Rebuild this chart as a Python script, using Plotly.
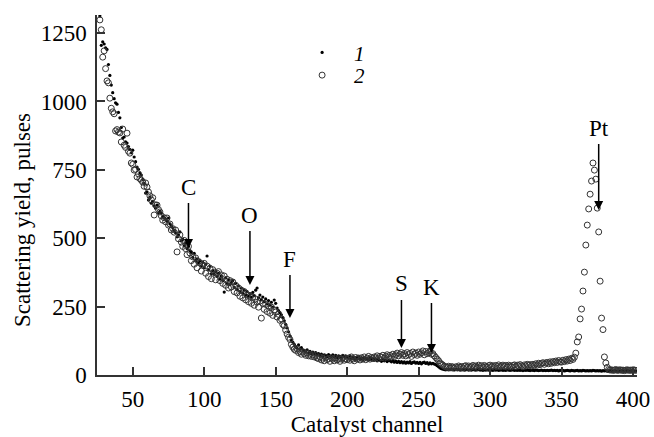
import plotly.graph_objects as go

# ---------------- data ----------------
channel_start = 27  # first catalyst channel of both series

# series 1 (small filled dots)
yield_1 = [
    1312, 1205, 1218,
    1210, 1196, 1190, 1135, 1095, 1060, 1032, 1010, 995, 990,
    960, 940, 905, 866, 870, 852, 848, 835, 825, 812,
    822, 797, 780, 760, 752, 738, 731, 715, 700, 665,
    669, 640, 650, 628, 635, 618, 610, 621, 592, 598,
    592, 580, 576, 570, 562, 574, 552, 545, 538, 528,
    520, 505, 512, 523, 490, 496, 472, 482, 462, 470,
    455, 448, 430, 445, 418, 425, 410, 418, 398, 412,
    392, 405, 435, 385, 398, 370, 382, 368, 378, 360,
    372, 350, 362, 345, 303, 355, 335, 348, 330, 338,
    345, 320, 335, 312, 326, 305, 318, 300, 310, 292,
    305, 288, 298, 285, 302, 290, 310, 318, 282, 292,
    275, 285, 268, 278, 260, 272, 255, 266, 248, 274,
    262, 245, 235, 228, 220, 210, 198, 185, 172, 158,
    142, 128, 120, 112, 104, 98, 110, 95, 100, 92,
    90, 84, 92, 80, 86, 78, 84, 76, 82, 74,
    78, 70, 76, 68, 74, 72, 66, 75, 70, 68,
    74, 66, 72, 64, 70, 68, 62, 72, 66, 70,
    66, 62, 70, 60, 66, 58, 64, 60, 66, 58,
    62, 56, 64, 58, 60, 55, 62, 57, 60, 54,
    58, 52, 57, 54, 50, 56, 52, 55, 49, 53,
    52, 48, 53, 47, 51, 46, 50, 45, 49, 44,
    48, 43, 47, 44, 49, 42, 46, 48, 43, 46,
    42, 46, 41, 45, 47, 42, 45, 40, 44, 41,
    43, 40, 38, 34, 30, 26, 23, 21, 20, 19,
    20, 19, 21, 20, 19, 20, 21, 19, 20, 18,
    19, 20, 18, 19, 20, 18, 19, 18, 20, 19,
    18, 19, 20, 18, 19, 17, 19, 18, 19, 18,
    19, 18, 17, 19, 18, 19, 17, 18, 19, 17,
    18, 17, 19, 18, 17, 18, 19, 17, 18, 17,
    18, 17, 18, 16, 18, 17, 18, 17, 16, 18,
    17, 16, 18, 17, 16, 17, 18, 16, 17, 16,
    17, 16, 17, 18, 16, 17, 16, 17, 15, 17,
    16, 17, 15, 16, 17, 16, 15, 17, 16, 15,
    16, 17, 15, 16, 15, 17, 16, 15, 16, 15,
    16, 15, 17, 16, 15, 16, 15, 16, 14, 16,
    15, 16, 14, 15, 16, 15, 14, 16, 15, 14,
    15, 14, 16, 15, 14, 15, 16, 14, 15, 14,
    15, 14, 15,
]

# series 2 (open circles)
yield_2 = [
    1298, 1262, 1162,
    1185, 1120, 1075, 1068, 1012, 975, 962, 955, 892, 897,
    888, 885, 852, 899, 840, 832, 884, 818, 811, 775,
    770, 749, 752, 724, 735, 718, 712, 705, 690, 702,
    687, 669, 655, 640, 648, 585, 622, 621, 605, 596,
    582, 566, 575, 560, 574, 548, 552, 530, 535, 522,
    530, 450, 498, 512, 486, 470, 492, 462, 440, 470,
    446, 418, 432, 405, 428, 392, 415, 409, 380, 402,
    408, 372, 398, 360, 390, 352, 385, 376, 348, 372,
    378, 345, 366, 335, 362, 328, 350, 318, 345, 322,
    340, 305, 328, 300, 318, 288, 310, 282, 305, 275,
    292, 268, 288, 262, 285, 255, 278, 266, 248, 270,
    208, 262, 240, 258, 232, 252, 226, 248, 218, 238,
    230, 212, 222, 200, 205, 185, 180, 164, 150, 138,
    130, 112, 102, 94, 90, 96, 82, 86, 76, 84,
    78, 72, 80, 70, 76, 68, 74, 66, 72, 62,
    60, 66, 55, 62, 52, 64, 56, 60, 50, 62,
    58, 52, 62, 55, 60, 50, 58, 63, 54, 60,
    56, 62, 54, 66, 58, 52, 64, 58, 62, 55,
    63, 58, 66, 56, 62, 68, 58, 64, 60, 66,
    62, 70, 60, 68, 64, 72, 62, 68, 74, 65,
    72, 66, 76, 68, 74, 80, 70, 76, 82, 72,
    78, 70, 82, 74, 79, 68, 84, 75, 80, 72,
    84, 76, 81, 88, 74, 86, 78, 82, 88, 76,
    78, 70, 64, 58, 52, 44, 40, 36, 32, 30,
    28, 32, 26, 31, 29, 25, 30, 27, 33, 28,
    31, 26, 32, 34, 28, 33, 27, 31, 35, 29,
    33, 28, 36, 30, 34, 29, 35, 31, 28, 34,
    36, 30, 34, 29, 35, 31, 37, 30, 33, 36,
    31, 35, 29, 36, 33, 30, 35, 37, 31, 36,
    33, 38, 34, 30, 37, 33, 39, 35, 38, 33,
    39, 35, 41, 36, 43, 38, 42, 45, 39, 44,
    46, 41, 48, 43, 49, 45, 51, 46, 53, 48,
    47, 54, 49, 56, 51, 58, 53, 61, 57, 65,
    80, 121, 139, 205, 241, 307, 376, 475, 548, 607,
    661, 709, 775, 749, 716, 610, 523, 343, 208, 166,
    66, 44, 28, 20, 18, 19, 17, 18, 20, 17,
    18, 19, 17, 18, 16, 18, 19, 17, 18, 17,
    19, 18, 17,
]

channels_1 = list(range(channel_start, channel_start + len(yield_1)))
channels_2 = list(range(channel_start, channel_start + len(yield_2)))

series_names = ["<i>1</i>", "<i>2</i>"]

# element markers (arrow tips in data units)
element_labels = ["C", "O", "F", "S", "K", "Pt"]
element_channels = [89, 132, 160, 238, 259, 376]
element_yields = [464, 329, 208, 99, 80, 603]

x_ticks = [50, 100, 150, 200, 250, 300, 350, 400]
y_ticks = [0, 250, 500, 750, 1000, 1250]

# ---------------- figure ----------------
FONT = "Liberation Serif"
AX = "#333333"

fig = go.Figure()
fig.add_trace(go.Scatter(
    x=channels_1, y=yield_1, mode="markers", name=series_names[0],
    legend="legend",
    marker=dict(symbol="circle", size=3.2, color="black", line=dict(width=0)),
))
fig.add_trace(go.Scatter(
    x=channels_2, y=yield_2, mode="markers", name=series_names[1],
    legend="legend2",
    marker=dict(symbol="circle-open", size=6, color="#333333",
                line=dict(width=1, color="#333333")),
))

label_offsets = [-61, -70, -59, -64, -66, -82]
for lab, cx, cy, off in zip(element_labels, element_channels, element_yields, label_offsets):
    fig.add_annotation(
        x=cx, y=cy, xref="x", yref="y", text=lab, showarrow=True,
        ax=0, ay=off, arrowhead=2, arrowsize=1.2, arrowwidth=1.5,
        arrowcolor="black", standoff=0, startstandoff=2,
        font=dict(family=FONT, size=23, color="black"),
    )

# y-axis title placed as a rotated annotation (off-centre as in the source)
fig.add_annotation(
    text="Scattering yield, pulses", xref="paper", yref="paper",
    x=(22 - 97) / 540, y=(375 - 220) / 360, textangle=-90,
    showarrow=False, font=dict(family=FONT, size=23, color="black"),
    xanchor="center", yanchor="middle",
)

legend_common = dict(xanchor="left", yanchor="top", bgcolor="rgba(0,0,0,0)",
                     itemwidth=54, font=dict(family=FONT, size=21, color="black"))

fig.update_layout(
    width=654, height=437,
    margin=dict(l=97, r=17, t=15, b=62, autoexpand=False),
    paper_bgcolor="white", plot_bgcolor="white",
    font=dict(family=FONT, size=23, color="black"),
    showlegend=True,
    legend=dict(x=0.3576, y=0.952, **legend_common),
    legend2=dict(x=0.3576, y=0.889, **legend_common),
    xaxis=dict(
        range=[25, 402.8], tickvals=x_ticks, ticks="inside", ticklen=8,
        tickwidth=1.5, tickcolor=AX, showline=True, linewidth=1.5,
        linecolor=AX, showgrid=False, zeroline=False, automargin=False,
        ticklabelstandoff=3,
        title=dict(text="Catalyst channel", standoff=1,
                   font=dict(family=FONT, size=23)),
        tickfont=dict(family=FONT, size=23),
    ),
    yaxis=dict(
        range=[0, 1316], tickvals=y_ticks, ticks="inside", ticklen=8,
        tickwidth=1.5, tickcolor=AX, showline=True, linewidth=1.5,
        linecolor=AX, showgrid=False, zeroline=False, automargin=False,
        ticklabelstandoff=4,
        tickfont=dict(family=FONT, size=23),
    ),
)

fig.write_html("out.html")
